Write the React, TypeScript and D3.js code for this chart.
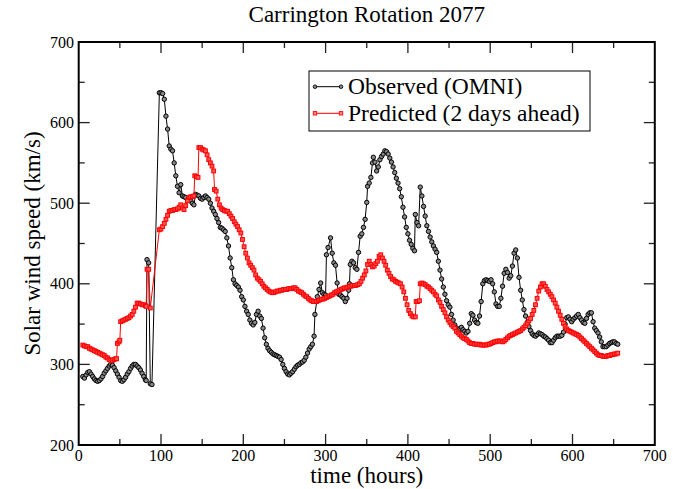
import React from "react";
import * as d3 from "d3";

const TITLE = "Carrington Rotation 2077";
const X_LABEL = "time (hours)";
const Y_LABEL = "Solar wind speed (km/s)";
const LEGEND_LABELS = ["Observed (OMNI)", "Predicted (2 days ahead)"];
const X_TICKS = [0, 100, 200, 300, 400, 500, 600, 700];
const Y_TICKS = [200, 300, 400, 500, 600, 700];

// [time (h), speed (km/s)]
const observed: [number, number][] = [
  [5,285],[7,283],[9,287],[11,290],[13,291],[15,288],[17,285],[19,282],[21,280],[23,279],[25,280],[27,282],[29,285],[31,289],[33,292],[35,295],[37,298],[39,300],[41,299],[43,296],[45,292],[47,288],[49,284],[51,280],[53,279],[55,281],[57,284],[59,288],[61,291],[63,295],[65,298],[67,300],[69,300],[71,298],[73,296],[75,293],[77,289],[79,285],[81,281],[82,280],[83,430],[85,426],[87,276],[89,275],
  [98,637],[100,637],[102,636],[104,629],[106,608],[108,592],[110,571],[112,567],[114,565],[116,550],[118,534],[120,521],[122,513],[124,523],[126,509],[128,508],[130,507],[133,505],[136,503],[138,500],[140,498],[142,511],[144,510],[146,509],[148,506],[150,505],[152,507],[154,509],[156,507],[158,505],[160,500],[162,494],[164,490],[166,486],[168,481],[170,476],[172,470],[174,469],[176,467],[178,465],[180,457],[182,447],[184,432],[186,420],[188,405],[190,400],[192,398],[194,396],[196,392],[198,384],[200,380],
  [202,372],[204,366],[206,362],[208,355],[210,351],[212,349],[214,352],[216,362],[218,366],[220,360],[222,357],[224,345],[226,333],[228,325],[230,320],[232,317],[234,315],[236,313],[238,312],[240,311],[242,310],[244,309],[246,306],[248,300],[250,295],[252,291],[254,288],[256,287],[258,289],[260,291],[262,294],[264,297],[266,299],[268,300],[270,302],[272,303],[274,305],[276,309],[278,314],[280,319],[282,322],[284,325],[286,335],[287,362],[290,384],[292,393],[294,401],[296,389],[298,387],[300,386],
  [301,436],[303,445],[306,457],[308,438],[310,426],[312,423],[314,401],[316,387],[318,386],[320,384],[322,382],[324,378],[326,382],[328,392],[329,400],[330,424],[332,428],[334,426],[336,420],[338,418],[340,439],[342,459],[344,462],[346,470],[348,480],[350,501],[351,521],[353,525],[355,532],[357,550],[358,557],[360,551],[362,540],[364,545],[366,554],[368,558],[370,561],[372,565],[374,564],[376,561],[378,556],[380,551],[382,545],[384,538],[386,531],[388,525],[390,518],[392,508],[394,495],[396,483],[398,470],[400,462],
  [402,454],[404,449],[406,444],[408,441],[409,486],[411,476],[413,472],[415,520],[417,509],[419,496],[421,484],[423,472],[425,465],[427,458],[429,452],[431,447],[433,443],[435,439],[437,428],[439,417],[441,406],[443,396],[445,387],[447,379],[449,374],[451,371],[453,362],[455,355],[457,349],[459,345],[461,341],[463,344],[465,346],[467,343],[469,341],[471,339],[473,341],[475,351],[477,363],[479,361],[481,355],[483,352],[485,351],[487,360],[489,378],[491,400],[493,404],[495,405],[497,404],[499,403],
  [501,405],[503,400],[505,390],[507,375],[509,372],[511,372],[513,382],[515,397],[517,413],[519,418],[521,414],[523,407],[525,410],[527,422],[529,438],[531,442],[533,432],[535,408],[537,392],[539,380],[541,368],[543,360],[545,352],[547,347],[549,342],[551,338],[553,336],[555,335],[557,337],[559,339],[561,338],[563,337],[565,335],[567,334],[569,332],[571,330],[573,327],[575,327],[577,330],[579,333],[581,335],[583,335],[585,335],[587,336],[589,340],[591,350],[593,358],[595,359],[597,356],[599,353],
  [601,356],[603,358],[605,360],[607,362],[609,358],[611,355],[613,352],[615,351],[617,357],[619,362],[621,364],[623,364],[625,353],[627,345],[629,342],[631,339],[633,334],[635,328],[637,322],[639,322],[641,322],[643,324],[645,326],[647,327],[649,328],[651,328],[653,326],[655,325],
];

const predicted: [number, number][] = [
  [5,324],[7,323],[9,322],[11,322],[13,320],[15,319],[17,318],[19,317],[21,316],[23,315],[25,314],[27,313],[29,312],[31,311],[33,309],[35,308],[37,306],[39,305],[41,305],[43,306],[45,307],[46,307],[47,326],[49,328],[50,330],[51,353],[53,354],[55,355],[57,356],[59,357],[61,358],[63,360],[65,362],[67,366],[69,371],[71,376],[73,376],[75,375],[77,374],[79,374],[81,373],[82,372],[83,418],[85,418],[87,370],
  [98,467],[100,468],[102,471],[104,475],[106,480],[108,485],[110,490],[112,491],[114,491],[116,492],[118,492],[120,493],[122,495],[124,498],[126,494],[128,492],[130,497],[132,503],[134,507],[136,508],[138,508],[140,509],[141,534],[143,533],[145,532],[146,569],[148,569],[150,567],[152,566],[154,565],[156,560],[158,554],[160,550],[162,546],[164,540],[165,517],[167,515],[169,505],[171,498],[173,494],[175,492],[177,491],[179,490],[181,490],[183,487],[185,484],[187,481],[189,477],[191,474],[193,471],[195,467],[197,463],[199,455],
  [201,446],[203,438],[205,432],[207,426],[209,423],[211,420],[213,417],[215,411],[217,407],[219,405],[221,403],[223,400],[225,397],[227,395],[229,393],[231,391],[233,390],[235,389],[237,389],[239,390],[241,391],[243,391],[245,392],[247,392],[249,393],[251,393],[253,393],[255,394],[257,394],[259,394],[261,395],[263,395],[265,393],[267,391],[269,390],[271,389],[273,387],[275,385],[277,384],[279,382],[281,380],[283,379],[285,378],[287,378],[289,378],[291,379],[293,380],[295,381],[297,381],[299,382],
  [301,383],[303,384],[305,385],[307,386],[309,387],[311,389],[313,390],[315,391],[317,392],[319,393],[321,394],[323,395],[325,395],[327,396],[329,397],[331,397],[333,398],[335,398],[337,398],[339,399],[341,400],[343,403],[345,407],[347,411],[349,416],[351,424],[353,428],[355,424],[357,421],[359,422],[361,425],[363,428],[365,434],[367,436],[369,432],[371,428],[373,423],[375,417],[377,413],[379,409],[381,406],[383,405],[385,403],[387,402],[389,401],[391,400],[393,396],[395,390],[397,382],[399,374],
  [401,367],[403,363],[405,360],[407,359],[409,359],[410,378],[412,378],[414,379],[415,400],[417,401],[419,400],[421,399],[423,397],[425,396],[427,394],[429,392],[431,390],[433,387],[435,385],[437,380],[439,377],[441,372],[443,368],[445,364],[447,359],[449,355],[451,352],[453,349],[455,347],[457,345],[459,341],[461,339],[463,337],[465,335],[467,333],[469,332],[471,331],[473,329],[475,327],[477,326],[479,326],[481,325],[483,325],[485,325],[487,325],[489,324],[491,324],[493,324],[495,324],[497,325],[499,325],
  [501,326],[503,327],[505,328],[507,328],[509,329],[511,329],[513,329],[515,328],[517,329],[519,331],[521,333],[523,335],[525,336],[527,337],[529,338],[531,339],[533,340],[535,341],[537,342],[539,344],[541,346],[543,348],[545,351],[547,354],[549,357],[551,362],[553,367],[555,374],[557,382],[559,391],[561,396],[563,400],[565,400],[567,397],[569,393],[571,390],[573,387],[575,384],[577,380],[579,376],[581,371],[583,366],[585,361],[587,356],[589,351],[591,347],[593,344],[595,342],[597,341],[599,340],
  [601,339],[603,338],[605,337],[607,336],[609,334],[611,332],[613,330],[615,328],[617,326],[619,324],[621,322],[623,320],[625,318],[627,316],[629,314],[631,312],[633,311],[635,311],[637,310],[639,310],[641,310],[643,311],[645,311],[647,312],[649,312],[651,313],[653,313],[655,314],
];

const FONT = "'Liberation Serif', 'Times New Roman', serif";

export default function App() {
  const W = 673, H = 489;
  const left = 78.7, right = 654.8, top = 42, bottom = 445;
  const x = d3.scaleLinear().domain([0, 700]).range([left, right]);
  const y = d3.scaleLinear().domain([200, 700]).range([bottom, top]);
  const line = d3.line<[number, number]>().x(d => x(d[0])).y(d => y(d[1]));

  const xMinor = d3.range(50, 700, 100);
  const yMinor = d3.range(250, 700, 100);
  const majorLen = 11, minorLen = 6;

  const tickLines: any[] = [];
  X_TICKS.slice(1, -1).forEach(t => {
    tickLines.push(<line key={"xb" + t} x1={x(t)} x2={x(t)} y1={bottom} y2={bottom - majorLen} />);
    tickLines.push(<line key={"xt" + t} x1={x(t)} x2={x(t)} y1={top} y2={top + majorLen} />);
  });
  xMinor.forEach(t => {
    tickLines.push(<line key={"xbm" + t} x1={x(t)} x2={x(t)} y1={bottom} y2={bottom - minorLen} />);
    tickLines.push(<line key={"xtm" + t} x1={x(t)} x2={x(t)} y1={top} y2={top + minorLen} />);
  });
  Y_TICKS.slice(1, -1).forEach(v => {
    tickLines.push(<line key={"yl" + v} x1={left} x2={left + majorLen} y1={y(v)} y2={y(v)} />);
    tickLines.push(<line key={"yr" + v} x1={right} x2={right - majorLen} y1={y(v)} y2={y(v)} />);
  });
  yMinor.forEach(v => {
    tickLines.push(<line key={"ylm" + v} x1={left} x2={left + minorLen} y1={y(v)} y2={y(v)} />);
    tickLines.push(<line key={"yrm" + v} x1={right} x2={right - minorLen} y1={y(v)} y2={y(v)} />);
  });

  const legX = 309, legY = 71, legW = 281, legH = 60;
  const row1 = 86.7, row2 = 113.3;
  const sq = 3.8;

  return (
    <svg width={W} height={H} style={{ position: "absolute", left: 0, top: 0, background: "#fff" }} fontFamily={FONT}>
      <rect x={0} y={0} width={W} height={H} fill="#fff" />
      <text x={(left + right) / 2} y={22} textAnchor="middle" fontSize={23}>{TITLE}</text>

      {/* data */}
      <path d={line(observed) || ""} fill="none" stroke="#000" strokeWidth={1} />
      {observed.map((d, i) => (
        <circle key={"o" + i} cx={x(d[0])} cy={y(d[1])} r={2.2} fill="#888" stroke="#000" strokeWidth={1} />
      ))}
      <path d={line(predicted) || ""} fill="none" stroke="#f00" strokeWidth={1} />
      {predicted.map((d, i) => (
        <rect key={"p" + i} x={x(d[0]) - sq / 2} y={y(d[1]) - sq / 2} width={sq} height={sq} fill="#f55" stroke="#f00" strokeWidth={1} />
      ))}

      {/* frame and ticks */}
      <g stroke="#222" strokeWidth={1.3}>{tickLines}</g>
      <rect x={left} y={top} width={right - left} height={bottom - top} fill="none" stroke="#000" strokeWidth={2} />

      {/* tick labels */}
      {X_TICKS.map(t => (
        <text key={"xl" + t} x={x(t)} y={461} textAnchor="middle" fontSize={16}>{t}</text>
      ))}
      {Y_TICKS.map(v => (
        <text key={"yl" + v} x={74} y={y(v) + 5.5} textAnchor="end" fontSize={16}>{v}</text>
      ))}

      <text x={(left + right) / 2} y={483} textAnchor="middle" fontSize={23}>{X_LABEL}</text>
      <text transform={`translate(40,${(top + bottom) / 2}) rotate(-90)`} textAnchor="middle" fontSize={23}>{Y_LABEL}</text>

      {/* legend */}
      <rect x={legX} y={legY} width={legW} height={legH} fill="#fff" stroke="#000" strokeWidth={1} />
      <line x1={315} x2={341} y1={row1} y2={row1} stroke="#000" strokeWidth={1} />
      <circle cx={315} cy={row1} r={1.8} fill="#888" stroke="#000" strokeWidth={0.9} />
      <circle cx={341} cy={row1} r={1.8} fill="#888" stroke="#000" strokeWidth={0.9} />
      <text x={348} y={row1 + 7.5} fontSize={23.5}>{LEGEND_LABELS[0]}</text>
      <line x1={315} x2={341} y1={row2} y2={row2} stroke="#f00" strokeWidth={1} />
      <rect x={315 - 1.7} y={row2 - 1.7} width={3.4} height={3.4} fill="#f88" stroke="#f00" strokeWidth={0.9} />
      <rect x={341 - 1.7} y={row2 - 1.7} width={3.4} height={3.4} fill="#f88" stroke="#f00" strokeWidth={0.9} />
      <text x={348} y={row2 + 7.5} fontSize={23.5}>{LEGEND_LABELS[1]}</text>
    </svg>
  );
}
